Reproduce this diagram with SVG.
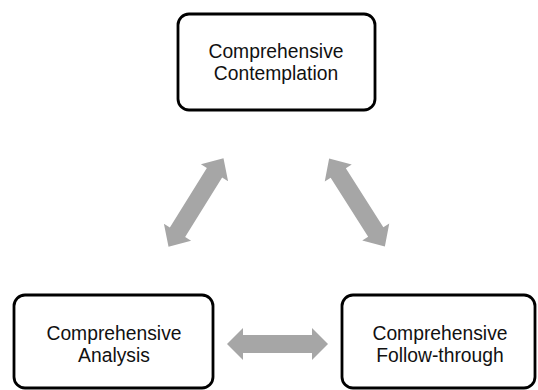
<svg xmlns="http://www.w3.org/2000/svg" width="538" height="390" viewBox="0 0 538 390">
<style>
.box{fill:#fff;stroke:#000;stroke-width:2.8}
.lbl{font-family:"Liberation Sans",Arial,sans-serif;font-size:19.3px;fill:#111;text-anchor:middle}
.arr{fill:#a6a6a6}
</style>
<defs>
<polygon id="dbl" points="-52,0 -35,-16 -35,-9 35,-9 35,-16 52,0 35,16 35,9 -35,9 -35,16"/>
</defs>
<rect width="538" height="390" fill="#fff"/>
<g id="connectors" class="arr">
<use href="#dbl" transform="translate(196,202.5) rotate(-58.1)"/>
<use href="#dbl" transform="translate(357,202.5) rotate(57.6)"/>
<polygon points="227,344 243,328 243,335 312,335 312,328 328,344 312,360 312,353 243,353 243,360"/>
</g>
<g id="node-contemplation">
<rect class="box" x="178" y="14" width="197" height="96" rx="11"/>
<text class="lbl" x="276" y="58">Comprehensive</text>
<text class="lbl" x="276" y="80">Contemplation</text>
</g>
<g id="node-analysis">
<rect class="box" x="14" y="295" width="199" height="93" rx="11"/>
<text class="lbl" x="114" y="340">Comprehensive</text>
<text class="lbl" x="114" y="362">Analysis</text>
</g>
<g id="node-followthrough">
<rect class="box" x="342" y="295" width="193" height="93" rx="11"/>
<text class="lbl" x="440" y="340">Comprehensive</text>
<text class="lbl" x="440" y="362">Follow-through</text>
</g>
</svg>
